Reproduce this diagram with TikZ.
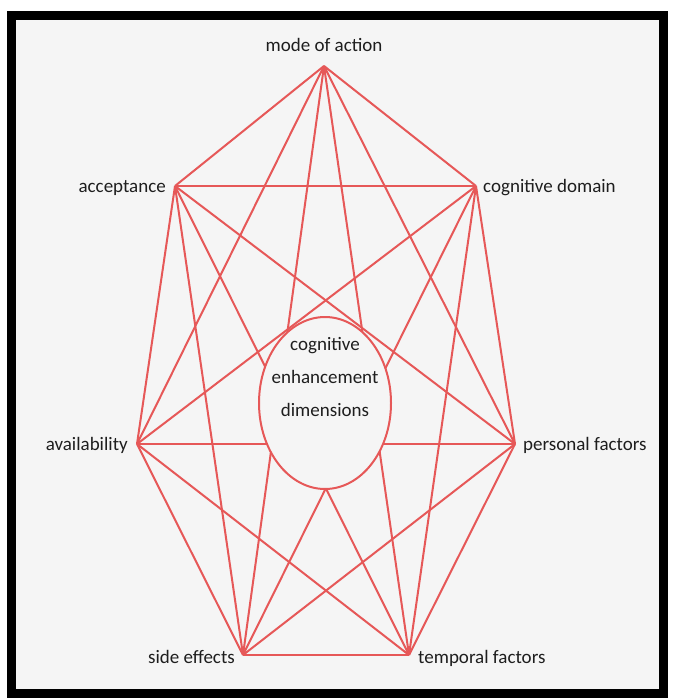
\documentclass[tikz,border=0pt]{standalone}
\usepackage{fontspec}
\setmainfont{Carlito}
\usetikzlibrary{shapes.geometric}
\definecolor{bg}{RGB}{245,245,245}
\definecolor{lred}{RGB}{230,88,88}
\definecolor{txt}{RGB}{30,30,30}
\begin{document}
\begin{tikzpicture}[x=1pt,y=-1pt,
  edge/.style={draw=lred, line width=2pt},
  hedge/.style={draw=lred, line width=2.8pt},
  lbl/.style={font=\fontsize{19}{21}\selectfont, text=txt, inner sep=0pt}]
\useasboundingbox (0,0) rectangle (672,698);
\fill[white] (0,0) rectangle (672,698);
\filldraw[fill=bg, draw=black, line width=9pt] (11.5,15.5) rectangle (663.5,693.5);
% vertices
\coordinate (m) at (324,66);
\coordinate (a) at (175,186);
\coordinate (c) at (476,186);
\coordinate (v) at (137,444);
\coordinate (p) at (515,444);
\coordinate (s) at (243,655);
\coordinate (t) at (409,655);
% labels
\node[lbl, anchor=base] (ml) at (324,52) {mode of action};
\node[lbl, anchor=base east] (al) at (166,192) {acceptance};
\node[lbl, anchor=base west] (cl) at (483,192) {cognitive domain};
\node[lbl, anchor=base east] (vl) at (128,450) {availability};
\node[lbl, anchor=base west] (pl) at (523,450) {personal factors};
\node[lbl, anchor=base east] (sl) at (235,663) {side effects};
\node[lbl, anchor=base west] (tl) at (418,663) {temporal factors};
% complete graph
\foreach \u/\w in {m/a,m/c,m/v,m/p,m/s,m/t,a/v,a/p,a/s,a/t,c/v,c/p,c/s,c/t,v/s,v/t,p/s,p/t}
  \draw[edge] (\u) -- (\w);
\foreach \u/\w in {a/c,v/p,s/t}
  \draw[hedge] (\u) -- (\w);
% centre ellipse
\node[ellipse, draw=lred, fill=bg, line width=2pt, minimum width=132pt, minimum height=172pt,
      inner sep=0pt] (e) at (325,403) {};
\node[lbl, align=center, font=\fontsize{19}{33}\selectfont] (et) at (325,377) {cognitive\\enhancement\\dimensions};
\end{tikzpicture}
\end{document}
